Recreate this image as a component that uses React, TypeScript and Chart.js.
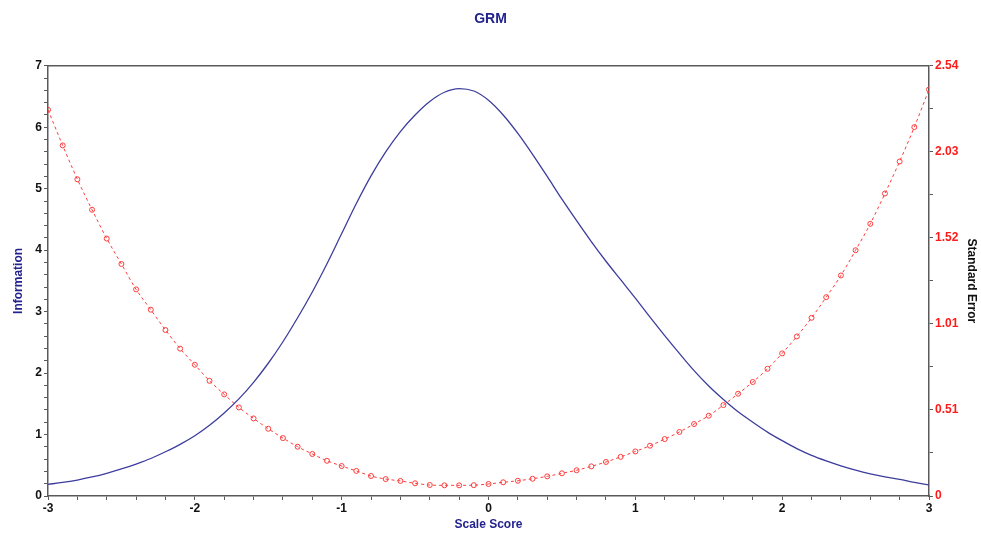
import React, { useEffect, useRef } from "react";
import { Chart, registerables } from "chart.js";

Chart.register(...registerables);

const CHART_TITLE = "GRM";
const X_TITLE = "Scale Score";
const Y_LEFT_TITLE = "Information";
const Y_RIGHT_TITLE = "Standard Error";

const THETA = [
  -3.0, -2.9, -2.8, -2.7, -2.6, -2.5, -2.4, -2.3, -2.2, -2.1,
  -2.0, -1.9, -1.8, -1.7, -1.6, -1.5, -1.4, -1.3, -1.2, -1.1,
  -1.0, -0.9, -0.8, -0.7, -0.6, -0.5, -0.4, -0.3, -0.2, -0.1,
  0.0, 0.1, 0.2, 0.3, 0.4, 0.5, 0.6, 0.7, 0.8, 0.9,
  1.0, 1.1, 1.2, 1.3, 1.4, 1.5, 1.6, 1.7, 1.8, 1.9,
  2.0, 2.1, 2.2, 2.3, 2.4, 2.5, 2.6, 2.7, 2.8, 2.9, 3.0,
];

const INFORMATION = [
  0.19, 0.22, 0.26, 0.31, 0.37, 0.44, 0.52, 0.61, 0.72, 0.84,
  0.98, 1.15, 1.35, 1.58, 1.85, 2.16, 2.51, 2.9, 3.32, 3.78,
  4.27, 4.76, 5.21, 5.6, 5.93, 6.2, 6.42, 6.57, 6.63, 6.59,
  6.44, 6.2, 5.9, 5.56, 5.2, 4.83, 4.48, 4.14, 3.82, 3.52,
  3.22, 2.91, 2.61, 2.32, 2.04, 1.79, 1.57, 1.37, 1.2, 1.04,
  0.9, 0.77, 0.66, 0.57, 0.49, 0.42, 0.36, 0.31, 0.27, 0.22, 0.18,
];

const STD_ERROR = [
  2.28, 2.07, 1.87, 1.69, 1.52, 1.37, 1.22, 1.1, 0.98, 0.87,
  0.775, 0.68, 0.6, 0.523, 0.458, 0.397, 0.342, 0.291, 0.248, 0.208,
  0.177, 0.148, 0.118, 0.1, 0.089, 0.075, 0.065, 0.063, 0.063, 0.064,
  0.071, 0.081, 0.09, 0.102, 0.116, 0.134, 0.152, 0.175, 0.201, 0.231,
  0.263, 0.297, 0.336, 0.378, 0.425, 0.474, 0.537, 0.604, 0.673, 0.751,
  0.842, 0.942, 1.052, 1.174, 1.302, 1.451, 1.607, 1.786, 1.975, 2.178, 2.4,
];

const X_MIN = -3;
const X_MAX = 3;
const Y_LEFT_MAX = 7;
const Y_RIGHT_MAX = 2.54;
const SE_TICK_LABELS = ["0", "0.51", "1.01", "1.52", "2.03", "2.54"];

const FONT = "'Liberation Sans', Arial, sans-serif";
const AXIS_COLOR = "#5a5a5a";

const framePlugin = {
  id: "frameTop",
  afterDraw(chart: any) {
    const { ctx, chartArea } = chart;
    ctx.save();
    ctx.strokeStyle = AXIS_COLOR;
    ctx.lineWidth = 1.5;
    ctx.beginPath();
    ctx.moveTo(chartArea.left, chartArea.top);
    ctx.lineTo(chartArea.right, chartArea.top);
    ctx.stroke();
    ctx.restore();
  },
};

export default function App() {
  const ref = useRef<HTMLCanvasElement | null>(null);

  useEffect(() => {
    if (!ref.current) return;
    const infoPoints = THETA.map((t, i) => ({ x: t, y: INFORMATION[i] }));
    const sePoints = THETA.map((t, i) => ({ x: t, y: STD_ERROR[i] }));

    const chart = new Chart(ref.current, {
      type: "line",
      data: {
        datasets: [
          {
            label: "Information",
            data: infoPoints,
            yAxisID: "y",
            borderColor: "#3d3d9d",
            borderWidth: 1.3,
            pointRadius: 0,
            cubicInterpolationMode: "monotone",
            fill: false,
          },
          {
            label: "Standard Error",
            data: sePoints,
            yAxisID: "y1",
            borderColor: "#ff3b3b",
            borderWidth: 1,
            borderDash: [3, 3],
            pointRadius: 2.5,
            pointBorderWidth: 1,
            pointBorderColor: "#ff3b3b",
            pointBackgroundColor: "rgba(255,255,255,0)",
            cubicInterpolationMode: "monotone",
            fill: false,
          },
        ],
      },
      options: {
        animation: false,
        responsive: false,
        maintainAspectRatio: false,
        layout: { padding: 0 },
        plugins: {
          legend: { display: false },
          tooltip: { enabled: false },
          title: {
            display: true,
            text: CHART_TITLE,
            color: "#23238f",
            font: { family: FONT, size: 14, weight: "bold" },
            padding: { top: 11, bottom: 38 },
          },
        },
        scales: {
          x: {
            type: "linear",
            min: X_MIN,
            max: X_MAX,
            afterBuildTicks: (scale: any) => {
              const t = [];
              for (let i = 0; i <= 30; i++) t.push({ value: X_MIN + i * 0.2 });
              scale.ticks = t;
            },
            afterFit: (scale: any) => {
              scale.height = 37;
            },
            ticks: {
              autoSkip: false,
              maxRotation: 0,
              padding: 1,
              color: "#111",
              font: { family: FONT, size: 12, weight: "bold" },
              callback: (v: any) => {
                const r = Math.round(Number(v) * 10) / 10;
                return Number.isInteger(r) ? String(r) : "";
              },
            },
            grid: {
              drawOnChartArea: false,
              drawTicks: true,
              tickLength: 4,
              color: AXIS_COLOR,
            },
            border: { display: true, color: AXIS_COLOR, width: 1.5 },
            title: {
              display: true,
              text: X_TITLE,
              color: "#23238f",
              font: { family: FONT, size: 12, weight: "bold" },
              padding: { top: 0, bottom: 1 },
            },
          },
          y: {
            type: "linear",
            position: "left",
            min: 0,
            max: Y_LEFT_MAX,
            afterBuildTicks: (scale: any) => {
              const t = [];
              for (let i = 0; i <= 35; i++) t.push({ value: i * 0.2 });
              scale.ticks = t;
            },
            afterFit: (scale: any) => {
              scale.width = 48;
            },
            ticks: {
              autoSkip: false,
              padding: 2,
              color: "#111",
              font: { family: FONT, size: 12, weight: "bold" },
              callback: (v: any) => {
                const r = Math.round(Number(v) * 10) / 10;
                return Number.isInteger(r) ? String(r) : "";
              },
            },
            grid: {
              drawOnChartArea: false,
              drawTicks: true,
              tickLength: 4,
              color: AXIS_COLOR,
            },
            border: { display: true, color: AXIS_COLOR, width: 1.5 },
            title: {
              display: true,
              text: Y_LEFT_TITLE,
              color: "#23238f",
              font: { family: FONT, size: 12, weight: "bold" },
              padding: { top: 11, bottom: 0 },
            },
          },
          y1: {
            type: "linear",
            position: "right",
            min: 0,
            max: Y_RIGHT_MAX,
            afterBuildTicks: (scale: any) => {
              const t = [];
              for (let i = 0; i <= 10; i++) t.push({ value: (i * Y_RIGHT_MAX) / 10 });
              scale.ticks = t;
            },
            afterFit: (scale: any) => {
              scale.width = 52;
            },
            ticks: {
              autoSkip: false,
              padding: 2,
              color: "#ff1a1a",
              font: { family: FONT, size: 12, weight: "bold" },
              callback: (_v: any, i: number) => (i % 2 === 0 ? SE_TICK_LABELS[i / 2] : ""),
            },
            grid: {
              drawOnChartArea: false,
              drawTicks: true,
              tickLength: 4,
              color: AXIS_COLOR,
            },
            border: { display: true, color: AXIS_COLOR, width: 1.5 },
            title: {
              display: true,
              text: Y_RIGHT_TITLE,
              color: "#111",
              font: { family: FONT, size: 12, weight: "bold" },
              padding: { top: 2, bottom: 2 },
            },
          },
        },
      },
      plugins: [framePlugin],
    } as any);

    return () => chart.destroy();
  }, []);

  return (
    <div style={{ position: "fixed", left: 0, top: 0, width: 981, height: 533, background: "#fff" }}>
      <canvas ref={ref} width={981} height={533} style={{ width: 981, height: 533, display: "block" }} />
    </div>
  );
}
